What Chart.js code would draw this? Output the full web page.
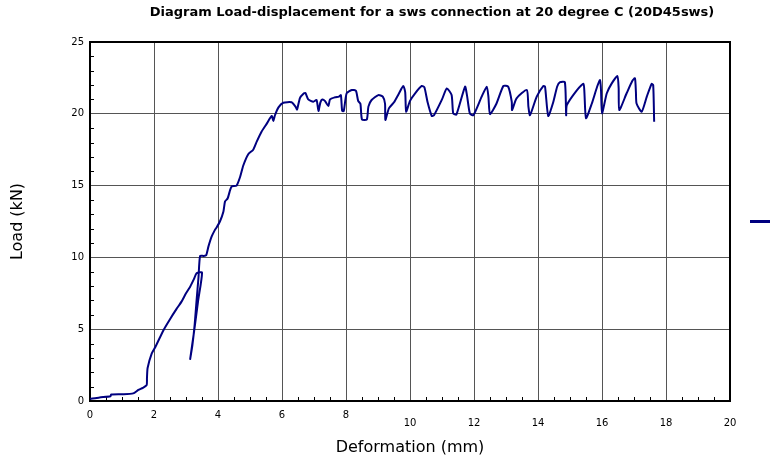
<!DOCTYPE html>
<html>
<head>
<meta charset="utf-8">
<script src="https://cdn.jsdelivr.net/npm/chart.js@4.4.1/dist/chart.umd.min.js"></script>
<style>
html,body{margin:0;padding:0;background:#fff;}
#wrap{width:771px;height:461px;position:relative;}
</style>
</head>
<body>
<div id="wrap"><canvas id="c" width="771" height="461"></canvas></div>
<script>
const chartTitle = 'Diagram Load-displacement for a sws connection at 20 degree C (20D45sws)';
const xAxisTitle = 'Deformation (mm)';
const yAxisTitle = 'Load (kN)';
const seriesName = '';

// Deformation (mm)
const deformation = [
  0, 0.3, 0.64, 0.66, 1.0, 1.35, 1.51, 1.65, 1.77, 1.78,
  1.8, 1.93, 2.05, 2.3, 2.5, 2.7, 2.86, 3.0, 3.13, 3.25,
  3.33, 3.5,
  3.38, 3.25, 3.13,
  3.2, 3.27, 3.33, 3.39, 3.44, 3.55, 3.63,
  3.7, 3.8, 3.9, 3.96, 4.06, 4.17, 4.22, 4.3, 4.38, 4.43,
  4.58, 4.69, 4.79, 4.95, 5.1, 5.21, 5.36, 5.52, 5.68, 5.73,
  5.78, 5.89, 6.04, 6.3, 6.42, 6.47, 6.56, 6.67, 6.73, 6.82,
  6.98, 7.08, 7.14, 7.2, 7.26, 7.34, 7.45, 7.5, 7.66, 7.78,
  7.84, 7.88, 7.93, 8.02, 8.18, 8.31, 8.38, 8.45, 8.5, 8.65,
  8.7, 8.8, 9.01, 9.15, 9.22, 9.23, 9.34, 9.5, 9.65, 9.79,
  9.85, 9.88, 10.0, 10.16, 10.37, 10.45, 10.55, 10.68, 10.75, 11.0,
  11.15, 11.3, 11.35, 11.45, 11.72, 11.78, 11.87, 11.98, 12.24, 12.4,
  12.45, 12.5, 12.7, 12.92, 13.07, 13.18, 13.19, 13.33, 13.65, 13.7,
  13.75, 13.96, 14.17, 14.22, 14.32, 14.48, 14.6, 14.69, 14.84, 14.88,
  14.9, 15.2, 15.42, 15.45, 15.5, 15.68, 15.85, 15.94, 15.97, 16.0,
  16.15, 16.3, 16.48, 16.52, 16.54, 16.77, 16.95, 17.03, 17.06, 17.08,
  17.24, 17.4, 17.55, 17.6, 17.63
];
// Load (kN)
const load = [
  0.15, 0.25, 0.33, 0.45, 0.47, 0.53, 0.77, 0.92, 1.1, 1.6,
  2.3, 3.32, 3.8, 4.95, 5.7, 6.4, 6.92, 7.5, 7.96, 8.5,
  8.9, 8.95,
  7.0, 4.8, 2.92,
  3.9, 5.3, 7.0, 8.6, 10.1, 10.1, 10.15,
  10.75, 11.44, 11.9, 12.1, 12.5, 13.2, 13.9, 14.1, 14.7, 14.95,
  15.0, 15.6, 16.4, 17.2, 17.5, 18.06, 18.75, 19.3, 19.85, 19.5,
  19.9, 20.45, 20.77, 20.8, 20.5, 20.3, 21.1, 21.4, 21.45, 21.0,
  20.84, 20.96, 20.2, 20.8, 21.0, 20.9, 20.54, 21.0, 21.15, 21.2,
  21.3, 20.2, 20.2, 21.43, 21.66, 21.6, 20.9, 20.7, 19.6, 19.6,
  20.5, 20.96, 21.3, 21.2, 20.7, 19.57, 20.38, 20.8, 21.4, 21.94,
  21.5, 20.15, 20.9, 21.43, 21.94, 21.85, 20.8, 19.85, 19.9, 21.0,
  21.77, 21.31, 20.03, 19.95, 21.89, 21.3, 20.03, 19.9, 21.2, 21.89,
  21.2, 19.98, 20.7, 21.94, 21.89, 20.84, 20.26, 21.08, 21.66, 20.5,
  19.9, 21.2, 21.94, 21.89, 19.85, 20.84, 21.9, 22.2, 22.2, 19.9,
  20.6, 21.6, 22.1, 21.5, 19.7, 20.7, 21.9, 22.35, 21.6, 20.03,
  21.43, 22.1, 22.63, 21.8, 20.26, 21.43, 22.3, 22.47, 21.5, 20.72,
  20.15, 21.2, 22.08, 22.0, 19.45
];

const xMin = 0, xMax = 20, xStep = 2, xMinorStep = 0.5;
const yMin = 0, yMax = 25, yStep = 5, yMinorStep = 1;

const points = deformation.map((d, i) => ({x: d, y: load[i]}));

const FONT = '"DejaVu Sans", Verdana, sans-serif';
const lineColor = '#000080';

const decor = {
  id: 'decor',
  beforeDatasetsDraw(chart) {
    const {ctx, chartArea: a, scales: {x, y}} = chart;
    ctx.save();
    ctx.strokeStyle = '#000';
    ctx.lineWidth = 1;
    ctx.beginPath();
    for (let v = xMin + xMinorStep; v < xMax; v += xMinorStep) {
      if (Math.abs(v / xStep - Math.round(v / xStep)) < 1e-6) continue;
      const px = Math.round(x.getPixelForValue(v)) + 0.5;
      ctx.moveTo(px, a.bottom);
      ctx.lineTo(px, a.bottom - 4);
    }
    for (let v = yMin + yMinorStep; v < yMax; v += yMinorStep) {
      if (Math.abs(v / yStep - Math.round(v / yStep)) < 1e-6) continue;
      const py = Math.round(y.getPixelForValue(v)) + 0.5;
      ctx.moveTo(a.left, py);
      ctx.lineTo(a.left + 4, py);
    }
    ctx.stroke();
    ctx.lineWidth = 2;
    ctx.strokeRect(a.left, a.top, a.right - a.left, a.bottom - a.top);
    ctx.restore();
  },
  afterDraw(chart) {
    const {ctx} = chart;
    ctx.save();
    ctx.font = 'bold 13px ' + FONT;
    ctx.fillStyle = '#000';
    ctx.textAlign = 'center';
    ctx.textBaseline = 'middle';
    ctx.fillText(chartTitle, 432, 13);
    ctx.restore();
  }
};

new Chart(document.getElementById('c'), {
  type: 'scatter',
  data: {
    datasets: [{
      label: seriesName,
      data: points,
      showLine: true,
      borderColor: lineColor,
      backgroundColor: lineColor,
      borderWidth: 2,
      pointRadius: 0,
      tension: 0.2,
      fill: false
    }]
  },
  options: {
    responsive: false,
    animation: false,
    layout: {padding: {top: 42, left: 0, right: 0, bottom: 0}},
    plugins: {
      title: {display: false},
      tooltip: {enabled: false},
      legend: {
        display: true,
        position: 'right',
        fullSize: false,
        maxWidth: 41,
        labels: {
          boxWidth: 20,
          boxHeight: 3,
          padding: 20,
          font: {family: FONT, size: 12},
          generateLabels: (chart) => Chart.defaults.plugins.legend.labels.generateLabels(chart)
            .map(l => Object.assign(l, {lineWidth: 0, fillStyle: lineColor, text: ''}))
        }
      }
    },
    scales: {
      x: {
        type: 'linear',
        min: xMin, max: xMax,
        grid: {color: '#555', lineWidth: 1, drawTicks: false},
        border: {display: false},
        ticks: {
          stepSize: xStep,
          autoSkip: false,
          maxRotation: 0,
          padding: 8,
          color: '#000',
          font: (c) => ({family: FONT, size: 10, lineHeight: (c.tick && c.tick.value >= 10) ? 0.9333 : 1.2}),
          callback: (v) => v >= 10 ? ['', String(v)] : String(v)
        },
        title: {
          display: true, text: xAxisTitle, color: '#000',
          font: {family: FONT, size: 16},
          padding: {top: 2.73, bottom: 3.4}
        }
      },
      y: {
        type: 'linear',
        min: yMin, max: yMax,
        grid: {color: '#555', lineWidth: 1, drawTicks: false},
        border: {display: false},
        ticks: {
          stepSize: yStep,
          padding: 6,
          color: '#000',
          font: {family: FONT, size: 10}
        },
        title: {
          display: true, text: yAxisTitle, color: '#000',
          font: {family: FONT, size: 16},
          padding: {top: 8.4, bottom: 37.68}
        }
      }
    }
  },
  plugins: [decor]
});
</script>
</body>
</html>
